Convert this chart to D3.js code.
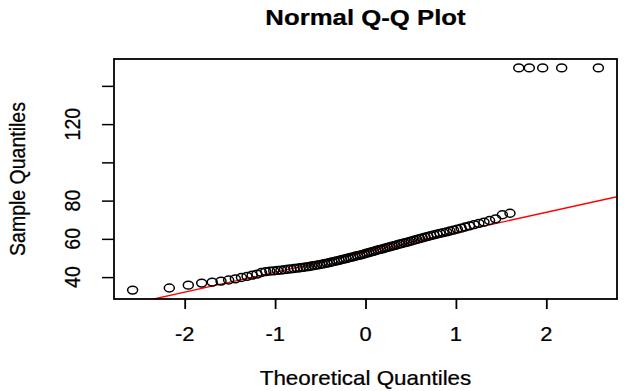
<!DOCTYPE html>
<html>
<head>
<meta charset="utf-8">
<script src="https://cdn.jsdelivr.net/npm/d3@7"></script>
<style>
  body { margin: 0; background: #fff; }
  text { font-family: "Liberation Sans", Arial, sans-serif; fill: #000; stroke: #000; stroke-width: 0.25px; }
</style>
</head>
<body>
<div id="qqplot"></div>
<script>
// sorted sample values
const sampleValues = [
  33.2, 34.3, 35.8, 36.9, 37.4, 37.9, 38.5, 39.1, 39.8, 40.4,
  41.0, 41.6, 42.4, 42.9, 43.1, 43.3, 43.5, 43.7, 43.9, 44.1,
  44.3, 44.5, 44.7, 44.9, 45.1, 45.3, 45.5, 45.8, 46.0, 46.3,
  46.5, 46.8, 47.0, 47.3, 47.6, 47.9, 48.2, 48.5, 48.8, 49.1,
  49.4, 49.7, 50.0, 50.3, 50.6, 50.9, 51.2, 51.5, 51.8, 52.1,
  52.5, 52.8, 53.2, 53.5, 53.8, 54.2, 54.5, 54.8, 55.2, 55.5,
  55.8, 56.2, 56.5, 56.8, 57.2, 57.5, 57.9, 58.2, 58.6, 58.9,
  59.3, 59.7, 60.1, 60.5, 60.9, 61.3, 61.7, 62.1, 62.5, 62.9,
  63.3, 63.7, 64.1, 64.6, 65.1, 65.6, 66.2, 66.8, 67.4, 68.1,
  68.8, 69.6, 70.5, 72.6, 73.4, 149.4, 149.4, 149.4, 149.4, 149.4
];

// qqline
const lineIntercept = 53.0;
const lineSlope = 10.43;

const xTicks = [-2, -1, 0, 1, 2];
const yTicks = [40, 60, 80, 100, 120, 140];
const yTickLabels = ["40", "60", "80", "", "120", ""];

const titleText = "Normal Q-Q Plot";
const xTitle = "Theoretical Quantiles";
const yTitle = "Sample Quantiles";

// picture is a bit wider than tall
const sx = 1.12;

// inverse normal cdf (Acklam)
function qnorm(p) {
  const a = [-3.969683028665376e+01, 2.209460984245205e+02, -2.759285104469687e+02, 1.383577518672690e+02, -3.066479806614716e+01, 2.506628277459239e+00];
  const b = [-5.447609879822406e+01, 1.615858368580409e+02, -1.556989798598866e+02, 6.680131188771972e+01, -1.328068155288572e+01];
  const c = [-7.784894002430293e-03, -3.223964580411365e-01, -2.400758277161838e+00, -2.549732539343734e+00, 4.374664141464968e+00, 2.938163982698783e+00];
  const d = [7.784695709041462e-03, 3.224671290700398e-01, 2.445134137142996e+00, 3.754408661907416e+00];
  const pl = 0.02425;
  let q, r;
  if (p < pl) {
    q = Math.sqrt(-2 * Math.log(p));
    return (((((c[0]*q+c[1])*q+c[2])*q+c[3])*q+c[4])*q+c[5]) / ((((d[0]*q+d[1])*q+d[2])*q+d[3])*q+1);
  } else if (p <= 1 - pl) {
    q = p - 0.5; r = q * q;
    return (((((a[0]*r+a[1])*r+a[2])*r+a[3])*r+a[4])*r+a[5])*q / (((((b[0]*r+b[1])*r+b[2])*r+b[3])*r+b[4])*r+1);
  } else {
    q = Math.sqrt(-2 * Math.log(1 - p));
    return -(((((c[0]*q+c[1])*q+c[2])*q+c[3])*q+c[4])*q+c[5]) / ((((d[0]*q+d[1])*q+d[2])*q+d[3])*q+1);
  }
}

const n = sampleValues.length;
const points = sampleValues.map((v, i) => ({ q: qnorm((i + 0.5) / n), v: v }));

const width = 624, height = 391;
const box = { left: 114, right: 617, top: 59, bottom: 299 };

const svg = d3.select("#qqplot")
  .append("svg")
  .attr("width", width)
  .attr("height", height);

svg.append("rect").attr("width", width).attr("height", height).attr("fill", "#fff");

// R style: 4% padding on each side
const qExt = d3.extent(points, d => d.q);
const vExt = d3.extent(points, d => d.v);
const qPad = (qExt[1] - qExt[0]) * 0.04, vPad = (vExt[1] - vExt[0]) * 0.04;

const x = d3.scaleLinear()
  .domain([qExt[0] - qPad, qExt[1] + qPad])
  .range([box.left, box.right]);
const y = d3.scaleLinear()
  .domain([vExt[0] - vPad, vExt[1] + vPad])
  .range([box.bottom, box.top]);

// x axis
const xAxis = svg.append("g")
  .attr("transform", `translate(0,${box.bottom})`)
  .call(d3.axisBottom(x).tickValues(xTicks).tickSize(10).tickFormat(""));
xAxis.select(".domain").remove();
xAxis.selectAll("line").attr("stroke", "#000").attr("stroke-width", 1.8);

svg.selectAll(".xlab")
  .data(xTicks)
  .join("text")
  .attr("class", "xlab")
  .attr("transform", d => `translate(${x(d)},341) scale(${sx},1)`)
  .attr("text-anchor", "middle")
  .style("font-size", "19.5px")
  .text(d => d);

// y axis
const yAxis = svg.append("g")
  .attr("transform", `translate(${box.left},0)`)
  .call(d3.axisLeft(y).tickValues(yTicks).tickSize(12).tickFormat(""));
yAxis.select(".domain").remove();
yAxis.selectAll("line").attr("stroke", "#000").attr("stroke-width", 1.5);

svg.selectAll(".ylab")
  .data(yTicks)
  .join("text")
  .attr("class", "ylab")
  .attr("transform", d => `translate(80,${y(d)}) scale(${sx},1) rotate(-90)`)
  .attr("text-anchor", "middle")
  .style("font-size", "19.5px")
  .text((d, i) => yTickLabels[i]);

// clip for line
svg.append("clipPath").attr("id", "plotclip")
  .append("rect")
  .attr("x", box.left).attr("y", box.top)
  .attr("width", box.right - box.left).attr("height", box.bottom - box.top);

// reference line
const qDom = x.domain();
svg.append("line")
  .attr("clip-path", "url(#plotclip)")
  .attr("x1", x(qDom[0])).attr("y1", y(lineIntercept + lineSlope * qDom[0]))
  .attr("x2", x(qDom[1])).attr("y2", y(lineIntercept + lineSlope * qDom[1]))
  .attr("stroke", "#ff0000")
  .attr("stroke-width", 1.4);

// points
svg.selectAll(".pt")
  .data(points)
  .join("ellipse")
  .attr("class", "pt")
  .attr("cx", d => x(d.q))
  .attr("cy", d => y(d.v))
  .attr("rx", 5)
  .attr("ry", 3.9)
  .attr("fill", "none")
  .attr("stroke", "#000")
  .attr("stroke-width", 1.5);

// box
svg.append("rect")
  .attr("x", box.left).attr("y", box.top)
  .attr("width", box.right - box.left).attr("height", box.bottom - box.top)
  .attr("fill", "none")
  .attr("stroke", "#000")
  .attr("stroke-width", 1.8);

// titles
svg.append("text")
  .attr("transform", `translate(${(box.left + box.right) / 2},25) scale(${sx},1)`)
  .attr("text-anchor", "middle")
  .style("font-size", "23px")
  .style("font-weight", "bold")
  .text(titleText);

svg.append("text")
  .attr("transform", `translate(${(box.left + box.right) / 2},385) scale(${sx},1)`)
  .attr("text-anchor", "middle")
  .style("font-size", "20px")
  .text(xTitle);

svg.append("text")
  .attr("transform", `translate(25,${(box.top + box.bottom) / 2}) scale(${sx},1) rotate(-90)`)
  .attr("text-anchor", "middle")
  .style("font-size", "19.5px")
  .text(yTitle);
</script>
</body>
</html>
